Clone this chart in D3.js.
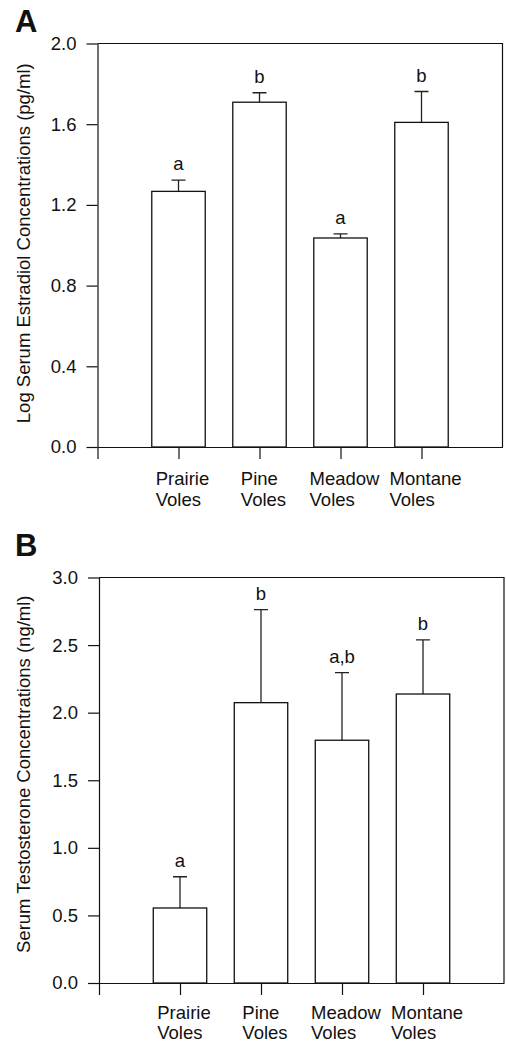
<!DOCTYPE html>
<html>
<head>
<meta charset="utf-8">
<script src="https://cdn.jsdelivr.net/npm/d3@7"></script>
<style>
  body { margin: 0; background: #fff; }
  text { font-family: Arial, "Liberation Sans", Helvetica, sans-serif; fill: #111; }
</style>
</head>
<body>
<svg id="chart"></svg>
<script>
// categories shared by both panels
const categories = [["Prairie", "Voles"], ["Pine", "Voles"], ["Meadow", "Voles"], ["Montane", "Voles"]];

// panel A: log serum estradiol
const estradiolMeans = [1.267, 1.709, 1.036, 1.609];
const estradiolErrors = [0.056, 0.047, 0.020, 0.153];
const estradiolLetters = ["a", "b", "a", "b"];
const estradiolTicks = [0.0, 0.4, 0.8, 1.2, 1.6, 2.0];

// panel B: serum testosterone
const testosteroneMeans = [0.555, 2.074, 1.796, 2.138];
const testosteroneErrors = [0.231, 0.688, 0.500, 0.400];
const testosteroneLetters = ["a", "b", "a,b", "b"];
const testosteroneTicks = [0.0, 0.5, 1.0, 1.5, 2.0, 2.5, 3.0];

let fontSize = 18.5;

let svg = d3.select('#chart')
    .attr('width', 506)
    .attr('height', 1043)

//panel: config
function getPanelConfig(p){
    let container = svg.append('g')
    return { container, ...p }
}

//panel: scales
function getPanelScales(config){
    let xScale = d3.scaleLinear()
        .domain([0, categories.length + 1])
        .range([config.left, config.right])

    let yScale = d3.scaleLinear()
        .domain([0, d3.max(config.ticks)])
        .range([config.bottom, config.top])

    return {xScale, yScale};
}

//panel: axes + frame
function drawPanelAxes(scales, config){
    let {xScale, yScale} = scales;
    let {container} = config;

    // frame (top and right)
    container.append('path')
        .attr('d', `M${config.left},${config.top}H${config.right}V${config.bottom}`)
        .attr('fill', 'none')
        .attr('stroke', '#111')
        .attr('stroke-width', 1.2)

    let axisY = d3.axisLeft(yScale)
        .tickValues(config.ticks)
        .tickFormat(d3.format('.1f'))
        .tickSize(11)
        .tickSizeOuter(0)
        .tickPadding(10)

    let gy = container.append('g')
        .attr('transform', `translate(${config.left},0)`)
        .call(axisY)

    let axisX = d3.axisBottom(xScale)
        .tickValues(d3.range(0, categories.length + 1))
        .tickFormat('')
        .tickSize(12)
        .tickSizeOuter(0)

    container.append('g')
        .attr('transform', `translate(0,${config.bottom})`)
        .call(axisX)

    container.selectAll('.domain, .tick line')
        .attr('stroke', '#111')
        .attr('stroke-width', 1.2)
    gy.selectAll('text')
        .attr('font-size', fontSize)
        .attr('font-family', null)
        .attr('fill', '#111')

    // category labels, two lines, left aligned block centred on tick
    let labels = container.selectAll('.cat')
        .data(categories)
        .enter().append('text')
        .attr('class', 'cat')
        .attr('font-size', fontSize)
    labels.selectAll('tspan')
        .data(d => d)
        .enter().append('tspan')
        .attr('dy', (d, i) => i === 0 ? 0 : config.lineGap)
        .text(d => d)
    labels.each(function(d, i){
        let w = d3.max(d3.select(this).selectAll('tspan').nodes(), n => n.getComputedTextLength());
        let x0 = xScale(i + 1) - w / 2 + 4;
        d3.select(this).attr('y', config.bottom + config.catOffset)
            .selectAll('tspan').attr('x', x0)
    })

    // y axis title
    container.append('text')
        .attr('transform', `translate(30,${(config.top + config.bottom) / 2 + config.titleShift}) rotate(-90)`)
        .attr('text-anchor', 'middle')
        .attr('font-size', fontSize)
        .text(config.yTitle)

    // panel letter
    container.append('text')
        .attr('x', 15)
        .attr('y', config.letterY)
        .attr('font-size', 31)
        .attr('font-weight', 'bold')
        .attr('fill', '#000')
        .text(config.letter)
}

//panel: bars, error bars and letters
function drawPanelBars(scales, config){
    let {xScale, yScale} = scales;
    let {container} = config;
    let bw = xScale(0.66) - xScale(0);
    let cap = 14;
    let data = config.means.map((m, i) => ({i, mean: m, err: config.errors[i], sig: config.letters[i]}));

    container.selectAll('.err')
        .data(data)
        .enter().append('path')
        .attr('class', 'err')
        .attr('d', d => {
            let cx = xScale(d.i + 1);
            let yt = yScale(d.mean + d.err);
            return `M${cx},${yScale(d.mean)}V${yt}M${cx - cap / 2},${yt}H${cx + cap / 2}`;
        })
        .attr('stroke', '#222')
        .attr('stroke-width', 1.3)
        .attr('fill', 'none')

    container.selectAll('.bar')
        .data(data)
        .enter().append('rect')
        .attr('class', 'bar')
        .attr('x', d => xScale(d.i + 1) - bw / 2)
        .attr('width', bw)
        .attr('y', d => yScale(d.mean))
        .attr('height', d => yScale(0) - yScale(d.mean))
        .attr('fill', '#fff')
        .attr('stroke', '#111')
        .attr('stroke-width', 1.3)

    container.selectAll('.sig')
        .data(data)
        .enter().append('text')
        .attr('class', 'sig')
        .attr('x', d => xScale(d.i + 1))
        .attr('y', d => yScale(d.mean + d.err) - 10)
        .attr('text-anchor', 'middle')
        .attr('font-size', fontSize)
        .text(d => d.sig)
}

function drawPanel(p){
    let config = getPanelConfig(p);
    let scales = getPanelScales(config);
    drawPanelBars(scales, config);
    drawPanelAxes(scales, config);
}

drawPanel({
    letter: 'A', letterY: 32,
    left: 97.5, right: 502.5, top: 43.5, bottom: 447,
    catOffset: 38, lineGap: 21,
    ticks: estradiolTicks, means: estradiolMeans, errors: estradiolErrors, letters: estradiolLetters,
    yTitle: 'Log Serum Estradiol Concentrations (pg/ml)', titleShift: -2
})

drawPanel({
    letter: 'B', letterY: 555.5,
    left: 99, right: 504, top: 577.5, bottom: 983,
    catOffset: 35.5, lineGap: 20,
    ticks: testosteroneTicks, means: testosteroneMeans, errors: testosteroneErrors, letters: testosteroneLetters,
    yTitle: 'Serum Testosterone Concentrations (ng/ml)', titleShift: -6
})
</script>
</body>
</html>
